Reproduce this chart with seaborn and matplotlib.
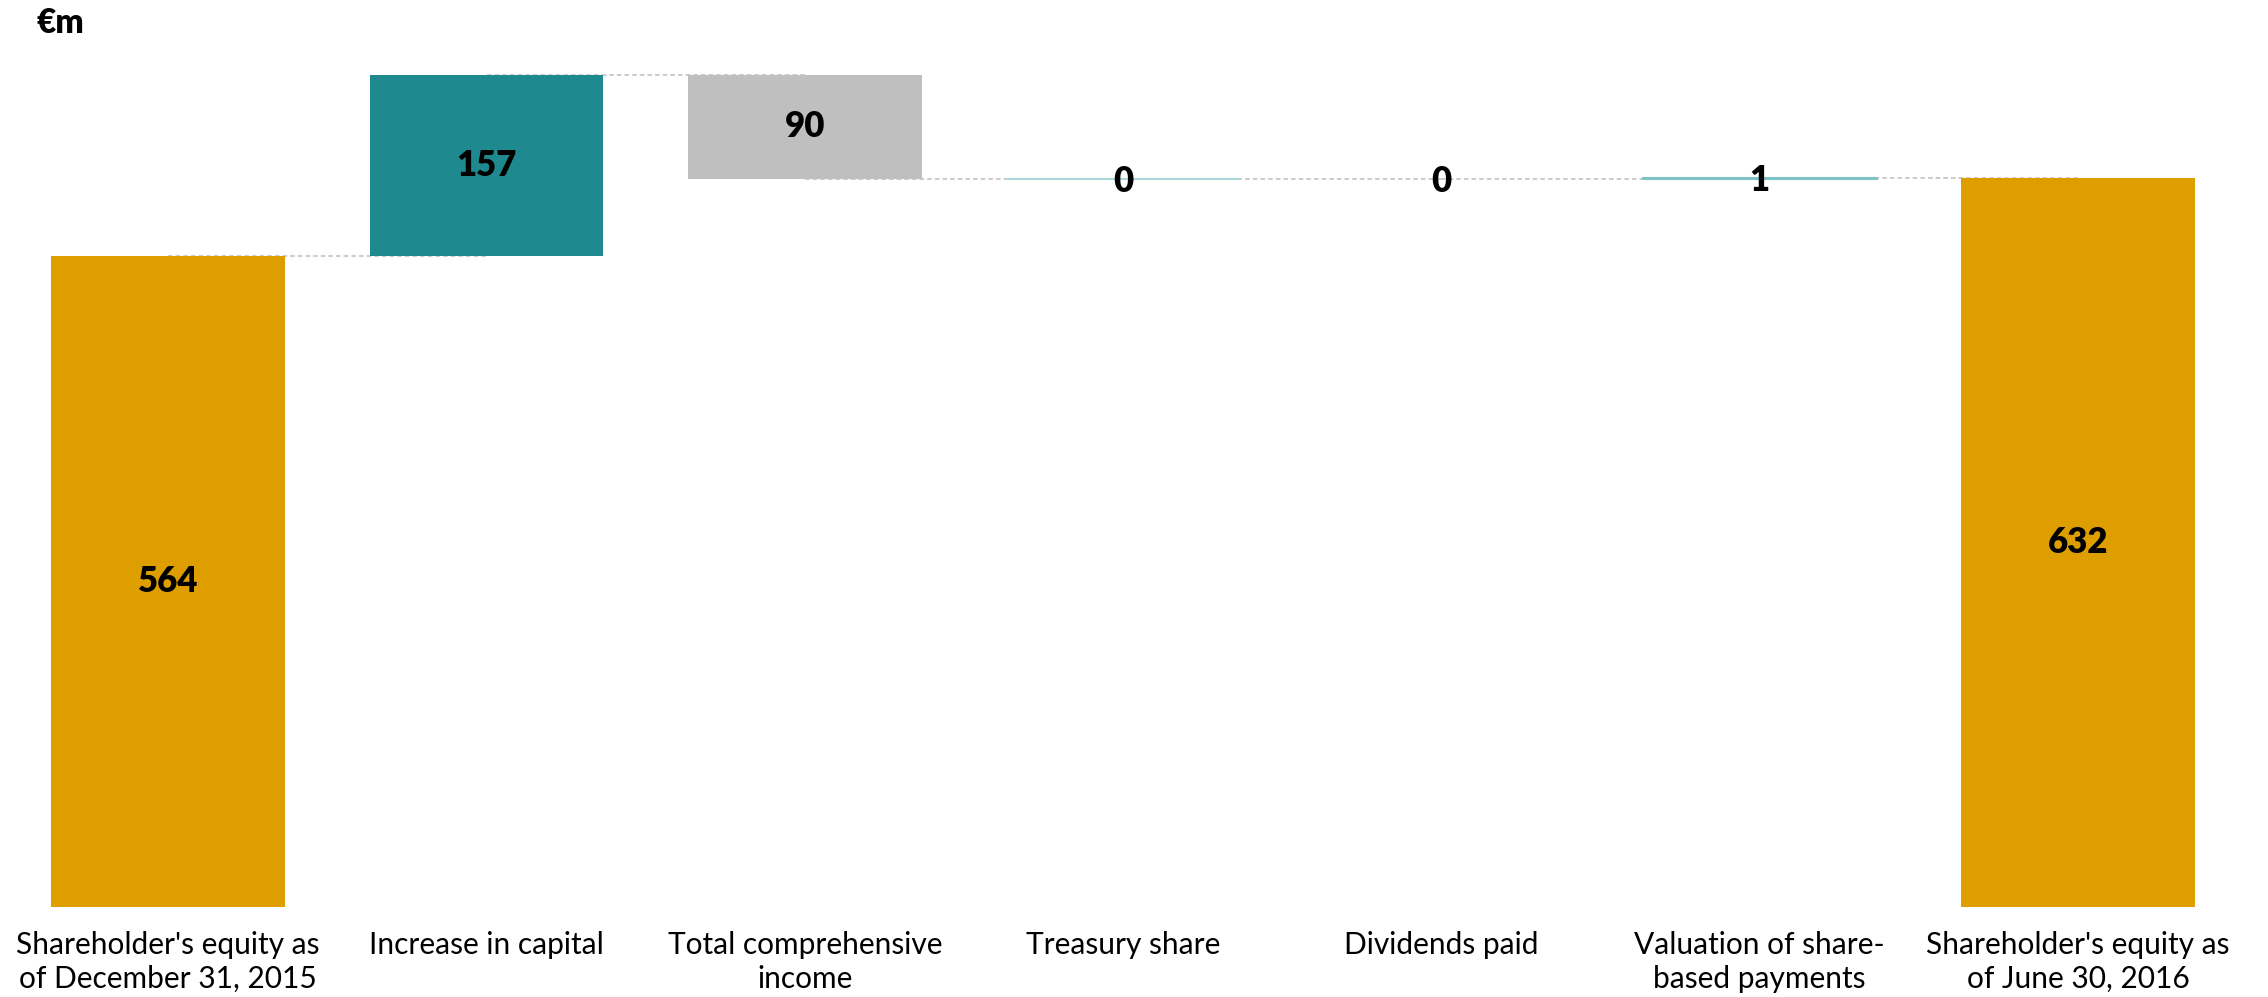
import matplotlib
matplotlib.use("Agg")
import matplotlib.pyplot as plt
import numpy as np
import pandas as pd
import seaborn as sns

categories = [
    "Shareholder's equity as\nof December 31, 2015",
    "Increase in capital",
    "Total comprehensive\nincome",
    "Treasury share",
    "Dividends paid",
    "Valuation of share-\nbased payments",
    "Shareholder's equity as\nof June 30, 2016",
]
changes = [564, 157, -90, 0, 0, 1, 632]
kinds = ["total", "delta", "delta", "delta", "delta", "delta", "total"]
labels = ["564", "157", "90", "0", "0", "1", "632"]

colors = ["#DE9E00", "#1E8A8F", "#BFBFBF", "#A9D7DA", "none", "#7FC2C6", "#DE9E00"]
edges = ["none", "none", "none", "#A9D7DA", "none", "#7FC2C6", "none"]

sns.set_theme(style="white")
plt.rcParams["font.family"] = ["Lato", "DejaVu Sans"]

# running totals -> bar bottoms / heights
bottoms, heights, ends = [], [], []
level = 0
for c, k in zip(changes, kinds):
    if k == "total":
        bottoms.append(0)
        heights.append(c)
        level = c
    else:
        new = level + c
        bottoms.append(min(level, new))
        heights.append(abs(c))
        level = new
    ends.append(level)

df = pd.DataFrame({"category": categories, "height": heights})

fig = plt.figure(figsize=(22.68, 9.97), dpi=100)
ax = fig.add_axes([0.004, 0.0903, 0.9824, 0.868])

sns.barplot(data=df, x="category", y="height", bottom=bottoms, width=0.735,
            color="#DE9E00", saturation=1, errorbar=None, ax=ax, zorder=2)

for p, c, e in zip(ax.patches, colors, edges):
    p.set_facecolor(c)
    p.set_edgecolor(e)
    p.set_linewidth(1.5 if e != "none" else 0)

# dashed connectors between running levels
for i in range(len(categories) - 1):
    ax.plot([i, i + 1], [ends[i], ends[i]], ls=(0, (3, 2)), color="#BDBDBD",
            lw=1.1, zorder=1)

for i, (b, h, t) in enumerate(zip(bottoms, heights, labels)):
    ax.text(i, b + h / 2 - (2 if h < 5 else 0), t, ha="center", va="center",
            fontsize=25, fontweight="heavy", color="black", zorder=3)

ax.set_xlim(-0.5, 6.5)
ax.set_ylim(0, 750)
ax.set_xlabel("")
ax.set_ylabel("")
ax.set_yticks([])
for s in ax.spines.values():
    s.set_visible(False)
ax.tick_params(axis="x", length=0, pad=17, labelsize=21.5, labelcolor="black")
for lbl in ax.get_xticklabels():
    lbl.set_va("top")
    lbl.set_linespacing(1.28)

fig.text(0.016, 0.977, "€m", ha="left", va="center", fontsize=24,
         fontweight="heavy", color="black")

fig.savefig("out.png", dpi=100)
